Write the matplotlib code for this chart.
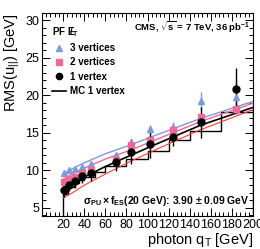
import numpy as np
import matplotlib
matplotlib.use("Agg")
import matplotlib.pyplot as plt
from matplotlib.ticker import MultipleLocator
from matplotlib.lines import Line2D

plt.rcParams['font.family'] = ['Liberation Sans', 'DejaVu Sans']
plt.rcParams['mathtext.fontset'] = 'custom'
plt.rcParams['mathtext.rm'] = 'Liberation Sans'
plt.rcParams['mathtext.it'] = 'Liberation Sans:italic'
plt.rcParams['mathtext.bf'] = 'Liberation Sans:bold'

# data points (photon qT in GeV, RMS(u_par) in GeV)
qt = [20.5, 26, 31.3, 37.6, 46.2, 70, 84.4, 102.4, 123.9, 151, 184]
rms_1vtx = [7.4, 8.1, 8.6, 9.2, 9.6, 11.1, 12.5, 13.5, 14.5, 16.4, 20.9]
err_1vtx = [0.9, 0.9, 0.9, 0.9, 1.0, 1.2, 1.7, 1.8, 1.2, 2.1, 2.7]
rms_2vtx = [8.5, 8.8, 9.1, 9.6, 10.1, 11.4, 13.4, 14.1, 15.4, 17.1, 18.2]
err_2vtx = [0.3, 0.3, 0.3, 0.3, 0.3, 0.4, 0.4, 0.5, 0.5, 0.6, 0.8]
rms_3vtx = [9.6, 10.0, 10.2, 10.5, 10.8, 12.0, 13.6, 15.5, 15.8, 19.3, 19.8]
err_3vtx = [0.3, 0.3, 0.3, 0.3, 0.4, 0.5, 0.6, 0.6, 0.7, 1.2, 2.2]

# MC 1 vertex histogram
mc_edges = [20, 25, 30, 35, 40, 50, 60, 80, 100, 120, 140, 170, 200]
mc_vals = [6.9, 7.8, 8.3, 8.7, 9.1, 9.8, 10.6, 11.5, 12.6, 14.0, 15.2, 17.85]

# fitted curves, read at a few qT values
fit_qt = [20, 30, 40, 60, 84, 110, 150, 200]
fit_3vtx = [9.5, 10.3, 11.0, 12.2, 13.4, 14.8, 16.9, 19.2]
fit_2vtx = [8.8, 9.6, 10.3, 11.5, 12.7, 14.2, 16.5, 18.95]
fit_1vtx = [7.7, 8.4, 9.1, 10.5, 12.0, 13.6, 16.0, 18.4]
fit_mc = [6.3, 7.1, 8.0, 9.5, 11.2, 12.9, 15.4, 18.1]

blue = '#7c9bd8'
pink = '#f06896'
red = '#ff3b3b'

fig = plt.figure(figsize=(2.60, 2.49), dpi=100)
ax = fig.add_axes([42/260, 1-216/249, 211/260, 203/249])

ax.plot(fit_qt, fit_mc, color=red, lw=0.8)
ax.plot(fit_qt, fit_1vtx, color='black', lw=1.2)
ax.plot(fit_qt, fit_2vtx, color=pink, lw=1.0)
ax.plot(fit_qt, fit_3vtx, color=blue, lw=1.0)

ax.stairs(mc_vals, mc_edges, baseline=0, fill=False, color='black', lw=1.0)

ax.errorbar(qt, rms_3vtx, yerr=err_3vtx, fmt='^', color=blue, ms=4.5, elinewidth=1, capsize=0)
ax.errorbar(qt, rms_2vtx, yerr=err_2vtx, fmt='s', color=pink, ms=4.5, elinewidth=1, capsize=0)
ax.errorbar(qt, rms_1vtx, yerr=err_1vtx, fmt='o', color='black', ms=5, elinewidth=1, capsize=0)

ax.set_xlim(0, 200)
ax.set_ylim(3.9, 31)
ax.set_xticks(np.arange(20, 201, 20))
ax.xaxis.set_minor_locator(MultipleLocator(4))
ax.yaxis.set_major_locator(MultipleLocator(5))
ax.yaxis.set_minor_locator(MultipleLocator(1))
ax.tick_params(which='both', direction='in', top=True, right=True, labelsize=9, pad=2)
ax.tick_params(which='major', length=6, width=0.7)
ax.tick_params(which='minor', length=3, width=0.7)
for s in ax.spines.values():
    s.set_linewidth(0.8)

ax.set_xlabel(r'photon q$_\mathrm{T}$ [GeV]', fontsize=10.5, loc='right', labelpad=0)
ax.set_ylabel(r'RMS(u$_{||}$) [GeV]', fontsize=10.5, loc='top', labelpad=2)

handles = [
    Line2D([], [], marker='^', color=blue, ls='none', ms=4.5),
    Line2D([], [], marker='s', color=pink, ls='none', ms=4.5),
    Line2D([], [], marker='o', color='black', ls='none', ms=4.5),
    Line2D([], [], color='black', lw=1.2),
]
labels = ['3 vertices', '2 vertices', '1 vertex', 'MC 1 vertex']
leg = ax.legend(handles, labels, loc='upper left', frameon=False,
                title=r'PF $\mathbf{E\!\!\!/_T}$', prop={'weight': 'bold', 'size': 7},
                handlelength=1.4, handletextpad=0.4, labelspacing=0.45,
                borderaxespad=0.2, bbox_to_anchor=(0.02, 0.97))
leg.get_title().set_fontweight('bold')
leg.get_title().set_fontsize(7)
leg._legend_box.align = 'left'

ax.text(0.985, 0.93, r'CMS, $\mathbf{\sqrt{s}}$ = 7 TeV, 36 pb$^\mathbf{-1}$', transform=ax.transAxes,
        ha='right', va='center', fontsize=6.8, fontweight='bold')
ax.text(0.985, 0.075, r'$\mathbf{\sigma_{PU}\times f_{ES}}$(20 GeV): 3.90 $\mathbf{\pm}$ 0.09 GeV',
        transform=ax.transAxes, ha='right', va='center', fontsize=7.5, fontweight='bold')

fig.savefig('out.png', dpi=100)
